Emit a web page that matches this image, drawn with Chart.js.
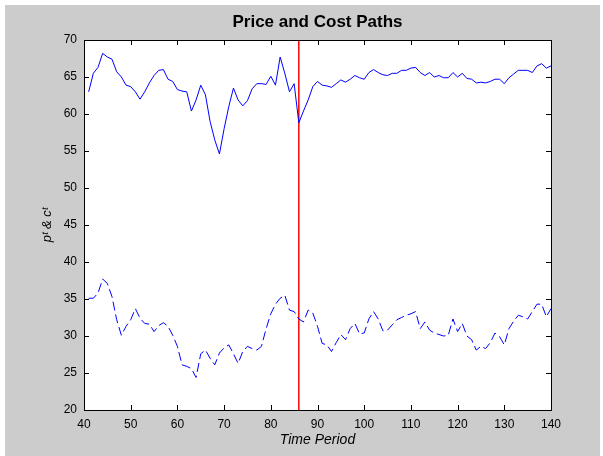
<!DOCTYPE html>
<html>
<head>
<meta charset="utf-8">
<script src="https://cdn.jsdelivr.net/npm/chart.js@4.4.1/dist/chart.umd.min.js"></script>
<style>
  html, body { margin: 0; padding: 0; background: #fff; }
  #wrap { width: 603px; height: 456px; }
</style>
</head>
<body>
<div id="wrap"><canvas id="chart" width="603" height="456"></canvas></div>
<script>
// --- data ---
const periods = [
  41, 42, 43, 44, 45, 46, 47, 48, 49, 50,
  51, 52, 53, 54, 55, 56, 57, 58, 59, 60,
  61, 62, 63, 64, 65, 66, 67, 68, 69, 70,
  71, 72, 73, 74, 75, 76, 77, 78, 79, 80,
  81, 82, 83, 84, 85, 86, 87, 88, 89, 90,
  91, 92, 93, 94, 95, 96, 97, 98, 99, 100,
  101, 102, 103, 104, 105, 106, 107, 108, 109, 110,
  111, 112, 113, 114, 115, 116, 117, 118, 119, 120,
  121, 122, 123, 124, 125, 126, 127, 128, 129, 130,
  131, 132, 133, 134, 135, 136, 137, 138, 139, 140
];

// price path p^t (solid)
const price = [
  63.0, 65.5, 66.3, 68.2, 67.7, 67.4, 65.7, 65.0, 63.9, 63.7,
  63.0, 62.0, 63.0, 64.2, 65.2, 65.9, 66.0, 64.7, 64.4, 63.3,
  63.1, 63.0, 60.4, 61.9, 63.9, 62.6, 59.0, 56.5, 54.6, 58.0,
  61.0, 63.5, 61.9, 61.1, 61.8, 63.4, 64.1, 64.1, 64.0, 65.1,
  63.9, 67.7, 65.5, 63.0, 64.1, 58.8, 60.4, 61.9, 63.7, 64.4,
  63.9, 63.8, 63.6, 64.1, 64.6, 64.3, 64.7, 65.2, 64.9, 64.7,
  65.6, 66.0, 65.6, 65.3, 65.2, 65.5, 65.5, 65.9, 65.9, 66.2,
  66.3, 65.6, 65.2, 65.6, 65.0, 65.2, 64.9, 64.9, 65.6, 65.0,
  65.5, 64.8, 64.7, 64.2, 64.3, 64.2, 64.4, 64.7, 64.7, 64.1,
  64.9, 65.4, 65.9, 65.9, 65.9, 65.6, 66.5, 66.8, 66.2, 66.5
];

// cost path c^t (dashed)
const cost = [
  35.1, 35.1, 35.8, 37.7, 37.1, 35.3, 32.2, 30.1, 31.3, 32.2,
  33.7, 32.4, 31.7, 31.6, 30.6, 31.4, 31.8, 31.3, 30.1, 28.6,
  26.1, 25.9, 25.6, 24.4, 27.6, 28.1, 27.0, 26.1, 27.7, 28.4,
  28.8, 27.6, 26.3, 27.9, 28.6, 28.3, 28.1, 28.6, 31.0, 33.0,
  34.3, 35.1, 35.5, 33.5, 33.3, 32.3, 31.9, 33.5, 33.1, 31.3,
  29.0, 28.8, 27.9, 29.1, 30.2, 29.5, 31.0, 31.7, 30.3, 30.4,
  32.3, 33.3, 32.3, 30.7, 30.8, 31.5, 32.2, 32.5, 32.8, 33.0,
  33.3, 31.0, 31.9, 30.8, 30.4, 30.2, 30.0, 30.1, 32.3, 30.6,
  31.7, 30.0, 29.5, 28.1, 28.6, 28.3, 29.1, 30.4, 29.9, 28.8,
  31.0, 32.0, 32.8, 32.6, 32.3, 33.3, 34.3, 34.3, 32.6, 33.7
];

// vertical marker
const breakPeriod = [86, 86];
const breakRange = [20, 70];

const FONT = "'Liberation Sans', Arial, Helvetica, sans-serif";

const toPoints = (xs, ys) => xs.map((x, i) => ({ x: x, y: ys[i] }));

// grey figure, white axes box, inward ticks on all four sides
const matlabFrame = {
  id: "matlabFrame",
  beforeDraw(chart) {
    const { ctx, chartArea: a, width, height } = chart;
    ctx.save();
    ctx.fillStyle = "#ffffff";
    ctx.fillRect(0, 0, width, height);
    ctx.fillStyle = "#cccccc";
    ctx.fillRect(5, 5, width - 8, height - 5);
    ctx.fillStyle = "#ffffff";
    ctx.fillRect(a.left, a.top, a.right - a.left, a.bottom - a.top);
    ctx.restore();
  },
  afterDatasetsDraw(chart) {
    const { ctx, chartArea: a } = chart;
    const xs = chart.scales.x, ys = chart.scales.y;
    const len = 5;
    ctx.save();
    ctx.strokeStyle = "#000";
    ctx.lineWidth = 1;
    ctx.beginPath();
    xs.ticks.forEach(t => {
      const px = Math.round(xs.getPixelForValue(t.value)) + 0.5;
      ctx.moveTo(px, a.bottom); ctx.lineTo(px, a.bottom - len);
      ctx.moveTo(px, a.top); ctx.lineTo(px, a.top + len);
    });
    ys.ticks.forEach(t => {
      const py = Math.round(ys.getPixelForValue(t.value)) + 0.5;
      ctx.moveTo(a.left, py); ctx.lineTo(a.left + len, py);
      ctx.moveTo(a.right, py); ctx.lineTo(a.right - len, py);
    });
    ctx.stroke();
    ctx.strokeRect(Math.round(a.left) + 0.5, Math.round(a.top) + 0.5,
      Math.round(a.right - a.left), Math.round(a.bottom - a.top));
    ctx.restore();
  }
};

new Chart(document.getElementById("chart"), {
  type: "line",
  data: {
    datasets: [
      {
        label: "price",
        data: toPoints(periods, price),
        borderColor: "#0000ff",
        borderWidth: 1,
        pointRadius: 0,
        tension: 0
      },
      {
        label: "cost",
        data: toPoints(periods, cost),
        borderColor: "#0000ff",
        borderWidth: 1,
        borderDash: [9, 4],
        pointRadius: 0,
        tension: 0
      },
      {
        label: "break",
        data: toPoints(breakPeriod, breakRange),
        borderColor: "#ff0000",
        borderWidth: 1.5,
        pointRadius: 0
      }
    ]
  },
  options: {
    responsive: false,
    animation: false,
    events: [],
    layout: { padding: { left: 0, right: 52, top: 0, bottom: 0 } },
    plugins: { legend: { display: false }, tooltip: { enabled: false } },
    scales: {
      x: {
        type: "linear",
        min: 40, max: 140,
        grid: { display: false, drawTicks: false },
        border: { display: false },
        ticks: { stepSize: 10, padding: 7, color: "#000", font: { family: FONT, size: 12 } },
        title: {
          display: true, text: "Time Period", color: "#000",
          font: { family: FONT, size: 14, style: "italic" },
          padding: { top: 0, bottom: 7 }
        },
        afterFit(s) { s.height = 46; }
      },
      x2: {
        type: "linear",
        position: "top",
        min: 40, max: 140,
        grid: { display: false, drawTicks: false },
        border: { display: false },
        ticks: { display: false },
        title: {
          display: true, text: "Price and Cost Paths", color: "#000",
          font: { family: FONT, size: 17, weight: "bold" },
          padding: { top: 12, bottom: 0 }
        },
        afterFit(s) { s.height = 40; }
      },
      y: {
        min: 20, max: 70,
        grid: { display: false, drawTicks: false },
        border: { display: false },
        ticks: { stepSize: 5, padding: 7, color: "#000", font: { family: FONT, size: 12 } },
        title: {
          display: true, text: "p\u1D57 & c\u1D57", color: "#000",
          font: { family: FONT, size: 13, style: "italic" },
          padding: { top: 40, bottom: 0 }
        },
        afterFit(s) { s.width = 84; }
      }
    }
  },
  plugins: [matlabFrame]
});
</script>
</body>
</html>
